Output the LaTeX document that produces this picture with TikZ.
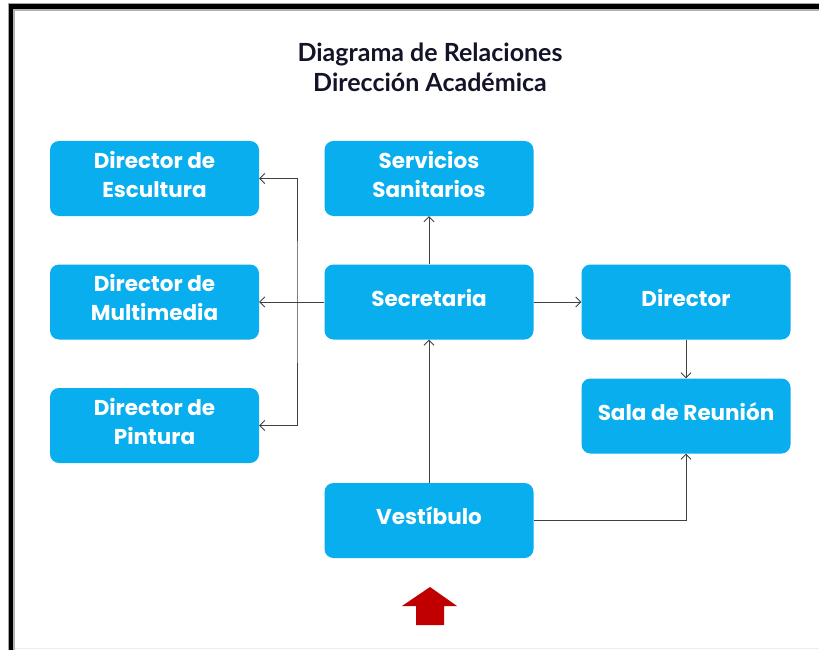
\documentclass[tikz,border=0pt]{standalone}
\usepackage{fontspec}
\setmainfont{Lato}
\newfontfamily\boxfont{Poppins}
\usetikzlibrary{arrows.meta}
\definecolor{boxcyan}{RGB}{8,174,238}
\definecolor{linegray}{RGB}{64,64,64}
\definecolor{arrowred}{RGB}{192,0,0}
\definecolor{titlecol}{RGB}{20,20,40}
\begin{document}
\begin{tikzpicture}[x=1pt,y=-1pt,
  >={Straight Barb[length=5pt,width=10pt]},
  box/.style={fill=boxcyan, rounded corners=9pt, minimum width=209pt, minimum height=75pt,
    text=white, font=\boxfont\bfseries\fontsize{21.5}{29}\selectfont, align=center, inner sep=0pt,
    text depth=9pt},
  conn/.style={draw=linegray, line width=0.8pt, ->}]
\useasboundingbox (0,0) rectangle (819,650);
\begin{scope}
\clip (0,0) rectangle (819,650);
\fill[gray!70] (7.5,3.5) rectangle (830,660);
\fill[black] (8.5,4.5) rectangle (830,660);
\fill[gray!60] (13,9.5) rectangle (830,660);
\fill[white] (15,11.5) rectangle (830,660);
\draw[gray!15, line width=1pt] (15,648) -- (830,648);
\end{scope}
\node[font=\bfseries\fontsize{25}{30}\selectfont, text=titlecol, align=center] (title) at (430,67)
  {Diagrama de Relaciones\\Dirección Académica};
\node[box] (esc) at (154.5,178.5) {Director de\\Escultura};
\node[box] (mul) at (154.5,302) {Director de\\Multimedia};
\node[box] (pin) at (154.5,425.5) {Director de\\Pintura};
\node[box] (ser) at (429,178.5) {Servicios\\Sanitarios};
\node[box] (sec) at (429,302) {Secretaria};
\node[box] (ves) at (429,520.5) {Vestíbulo};
\node[box] (dir) at (686,302) {Director};
\node[box] (sal) at (686,416) {Sala de Reunión};
\coordinate (bus) at (297,302);
\draw[conn] (sec) -- (ser);
\draw[conn] (ves) -- (sec);
\draw[conn] (sec) -- (dir);
\draw[conn] (dir) -- (sal);
\draw[conn] (ves) -| (sal);
\draw[conn] (sec) -- (mul);
\draw[conn, <->] (esc) -| (bus) |- (pin);
\fill[arrowred] (430,587) -- (457,606) -- (444,606) -- (444,625) -- (416,625) -- (416,606) -- (402,606) -- cycle;
\end{tikzpicture}
\end{document}
